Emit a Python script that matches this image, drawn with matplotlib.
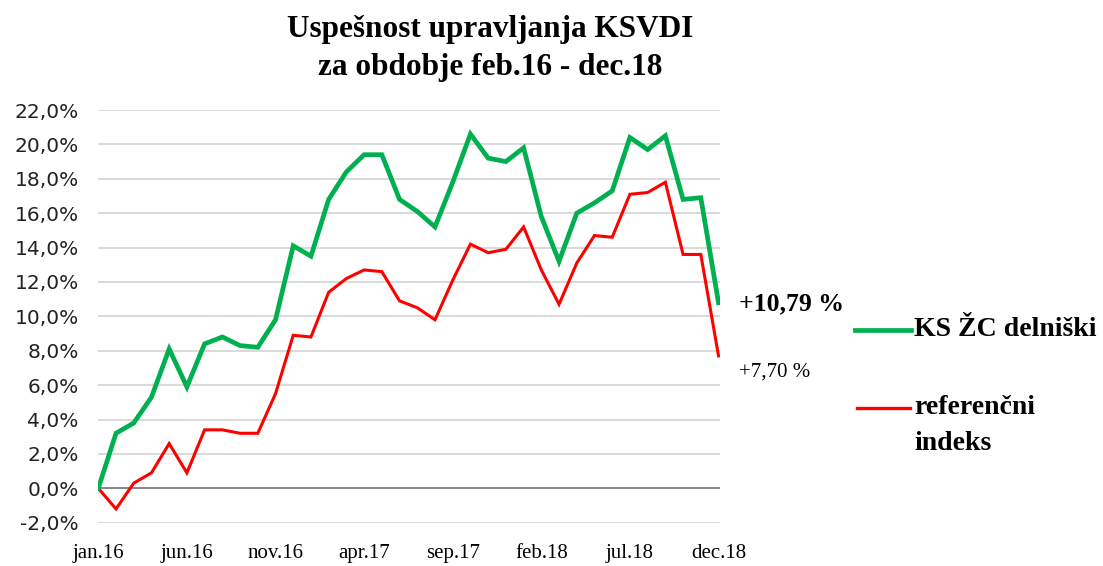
import matplotlib
matplotlib.use('Agg')
import matplotlib.pyplot as plt
from matplotlib.lines import Line2D

# monthly cumulative return, jan.16 .. dec.18 (%)
months = ['jan.16', 'feb.16', 'mar.16', 'apr.16', 'maj.16', 'jun.16', 'jul.16', 'avg.16',
          'sep.16', 'okt.16', 'nov.16', 'dec.16', 'jan.17', 'feb.17', 'mar.17', 'apr.17',
          'maj.17', 'jun.17', 'jul.17', 'avg.17', 'sep.17', 'okt.17', 'nov.17', 'dec.17',
          'jan.18', 'feb.18', 'mar.18', 'apr.18', 'maj.18', 'jun.18', 'jul.18', 'avg.18',
          'sep.18', 'okt.18', 'nov.18', 'dec.18']
fund = [0.0, 3.2, 3.8, 5.3, 8.1, 5.9, 8.4, 8.8, 8.3, 8.2, 9.8, 14.1,
        13.5, 16.8, 18.4, 19.4, 19.4, 16.8, 16.1, 15.2, 17.8, 20.6, 19.2, 19.0,
        19.8, 15.8, 13.2, 16.0, 16.6, 17.3, 20.4, 19.7, 20.5, 16.8, 16.9, 10.79]
index = [0.0, -1.2, 0.3, 0.9, 2.6, 0.9, 3.4, 3.4, 3.2, 3.2, 5.5, 8.9,
         8.8, 11.4, 12.2, 12.7, 12.6, 10.9, 10.5, 9.8, 12.1, 14.2, 13.7, 13.9,
         15.2, 12.7, 10.7, 13.1, 14.7, 14.6, 17.1, 17.2, 17.8, 13.6, 13.6, 7.70]
tick_every = 5
yticks = list(range(-2, 23, 2))

GREEN = '#00b050'
RED = '#ff0000'

fig = plt.figure(figsize=(11.03, 5.66), dpi=100)
ax = fig.add_axes([98.3 / 1103, 43.3 / 566, 622 / 1103, 412.7 / 566])

x = list(range(len(months)))
for y in yticks:
    ax.axhline(y, color='#868686' if y == 0 else '#d9d9d9', lw=1.4, zorder=0)
ax.plot(x, fund, color=GREEN, lw=3.4, solid_joinstyle='miter', zorder=3)
ax.plot(x, index, color=RED, lw=2.2, solid_joinstyle='miter', zorder=2)

ax.set_xlim(0, 35.1)
ax.set_ylim(-2, 22)
ax.set_yticks(yticks)
ax.set_yticklabels([f'{v:.1f}%'.replace('.', ',') for v in yticks],
                   fontsize=14.5, family='DejaVu Sans', color='#222222')
ax.set_xticks(x[::tick_every])
ax.set_xticklabels(months[::tick_every], fontsize=15, family='Liberation Serif')
ax.tick_params(axis='y', length=0, pad=14)
ax.tick_params(axis='x', length=0, pad=15)
for s in ax.spines.values():
    s.set_visible(False)

# end-value labels
ax.annotate(f'+{fund[-1]:.2f} %'.replace('.', ','), xy=(x[-1], fund[-1]),
            xytext=(20, -1), textcoords='offset pixels', va='center', ha='left',
            fontsize=18.5, fontweight='bold', family='Liberation Serif', annotation_clip=False)
ax.annotate(f'+{index[-1]:.2f} %'.replace('.', ','), xy=(x[-1], index[-1]),
            xytext=(20, -16), textcoords='offset pixels', va='center', ha='left',
            fontsize=15, family='Liberation Serif', annotation_clip=False)

# legend
fig.add_artist(Line2D([855 / 1103, 911 / 1103], [1 - 330 / 566] * 2, color=GREEN, lw=3.4))
fig.add_artist(Line2D([857 / 1103, 910 / 1103], [1 - 408 / 566] * 2, color=RED, lw=2.4))
fig.text(914 / 1103, 1 - 330 / 566, 'KS ŽC delniški', va='center', ha='left',
         fontsize=20, fontweight='bold', family='Liberation Serif')
fig.text(914 / 1103, 1 - 408 / 566, 'referenčni', va='center', ha='left',
         fontsize=20, fontweight='bold', family='Liberation Serif')
fig.text(914 / 1103, 1 - 443 / 566, 'indeks', va='center', ha='left',
         fontsize=20, fontweight='bold', family='Liberation Serif')

fig.text(490 / 1103, 1 - 30 / 566, 'Uspešnost upravljanja KSVDI', va='center', ha='center',
         fontsize=22.5, fontweight='bold', family='Liberation Serif')
fig.text(490 / 1103, 1 - 68 / 566, 'za obdobje feb.16 - dec.18', va='center', ha='center',
         fontsize=22.5, fontweight='bold', family='Liberation Serif')

fig.savefig('out.png', dpi=100, facecolor='white')
